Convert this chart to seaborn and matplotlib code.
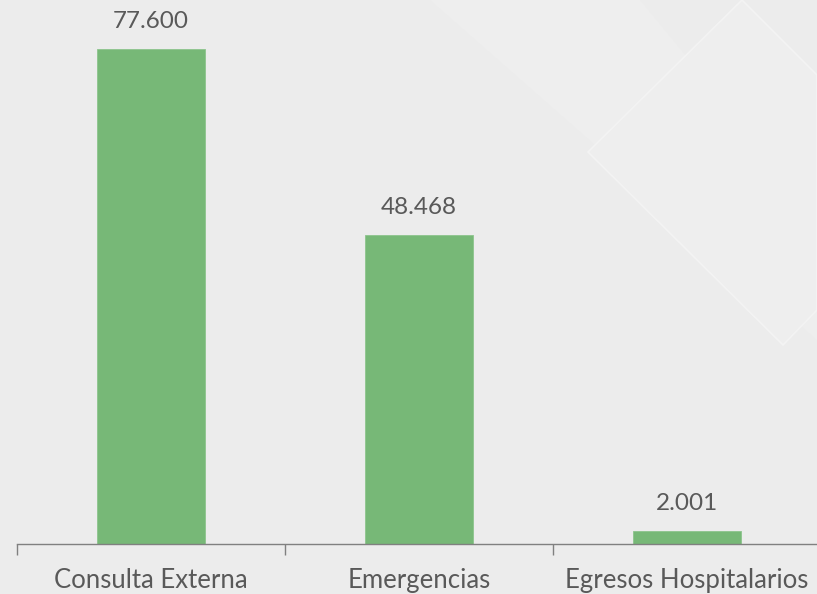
import matplotlib
matplotlib.use("Agg")
import matplotlib.pyplot as plt
import seaborn as sns
import pandas as pd
from matplotlib.patches import Polygon

categories = ["Consulta Externa", "Emergencias", "Egresos Hospitalarios"]
values = [77600, 48468, 2001]
value_labels = ["77.600", "48.468", "2.001"]

sns.set_theme(style="white")
plt.rcParams["font.family"] = ["Lato", "DejaVu Sans"]

bg = "#ECECEC"
text_color = "#595959"

fig = plt.figure(figsize=(8.17, 5.94), dpi=100, facecolor=bg)

# subtle decorative shapes in the background
band = Polygon([(430 / 817, 1), (640 / 817, 1), (817 / 817, 1 - 215 / 594),
                (817 / 817, 1 - 340 / 594)], closed=True, transform=fig.transFigure,
               facecolor="#EEEEEE", edgecolor="none", zorder=0)
square = Polygon([(742 / 817, 1), (588 / 817, 1 - 152 / 594), (783 / 817, 1 - 345 / 594),
                  (817 / 817, 1 - 310 / 594), (817 / 817, 1 - 75 / 594)], closed=True,
                 transform=fig.transFigure, facecolor="#EEEEEE", edgecolor="#F3F3F3",
                 linewidth=1.2, zorder=0)
fig.patches.extend([band, square])

ax = fig.add_axes([17 / 817, 1 - 544 / 594, 804 / 817, 544 / 594])
ax.set_facecolor("none")

df = pd.DataFrame({"category": categories, "value": values})
sns.barplot(data=df, x="category", y="value", color="#77B877", saturation=1,
            width=0.4, ax=ax, zorder=2, edgecolor="#8CC48C", linewidth=0.6)

ax.set_xlim(-0.5, 2.5)
ax.set_ylim(0, 77600 * 544 / 495)

for i, (v, lab) in enumerate(zip(values, value_labels)):
    ax.annotate(lab, (i, v), xytext=(0, 20), textcoords="offset points",
                ha="center", va="center", fontsize=17.5, color=text_color)

for s in ["top", "right", "left"]:
    ax.spines[s].set_visible(False)
ax.spines["bottom"].set_color("#808080")
ax.spines["bottom"].set_linewidth(1)

ax.set_yticks([])
ax.set_xticks([-0.5, 0.5, 1.5, 2.5])
ax.set_xticklabels([])
ax.set_xticks([0, 1, 2], minor=True)
ax.set_xticklabels(categories, minor=True, fontsize=18.5, color=text_color)
ax.tick_params(axis="x", which="major", direction="out", length=8, width=1,
               color="#808080", bottom=True)
ax.tick_params(axis="x", which="minor", length=0, pad=17)
ax.set_xlabel("")
ax.set_ylabel("")

fig.savefig("out.png", dpi=100, facecolor=bg)
